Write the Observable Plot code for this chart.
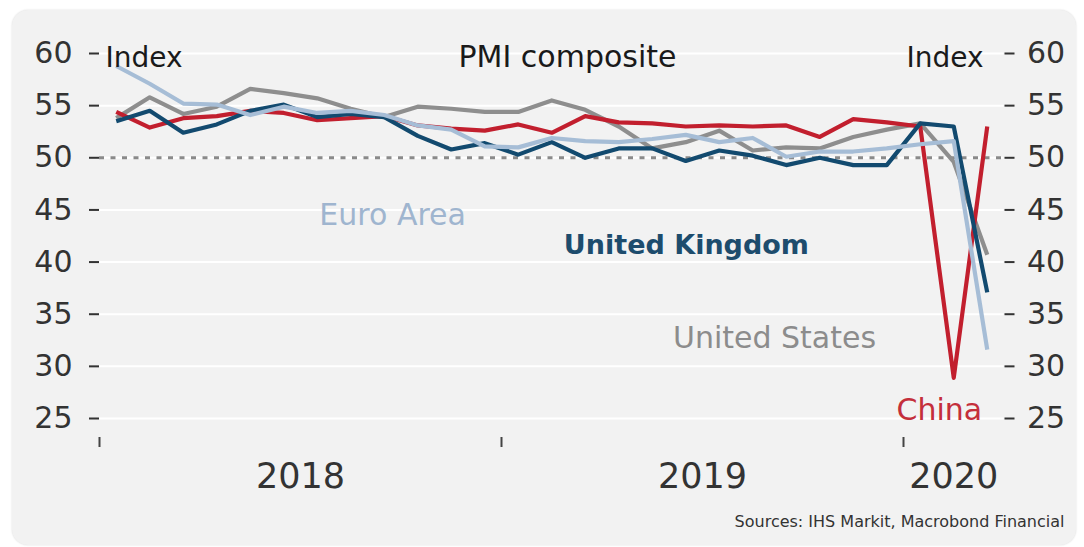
<!DOCTYPE html>
<html>
<head>
<meta charset="utf-8">
<script src="https://cdn.jsdelivr.net/npm/d3@7"></script>
<script src="https://cdn.jsdelivr.net/npm/@observablehq/plot@0.6"></script>
<style>
  html, body { margin: 0; padding: 0; background: #ffffff; }
  #wrap { position: relative; width: 1084px; height: 547px; overflow: hidden; }
  #card { position: absolute; left: 12px; top: 10px; width: 1064px; height: 535px;
          background: #f2f2f2; border-radius: 16px; box-shadow: 0 0 2px #d8d8d8; }
  #chart { position: absolute; left: 0; top: 0; }
</style>
</head>
<body>
<div id="wrap"><div id="card"></div><div id="chart"></div></div>
<script>
// ---- data ----
const months = ["2018-01","2018-02","2018-03","2018-04","2018-05","2018-06","2018-07","2018-08","2018-09","2018-10","2018-11","2018-12",
                "2019-01","2019-02","2019-03","2019-04","2019-05","2019-06","2019-07","2019-08","2019-09","2019-10","2019-11","2019-12",
                "2020-01","2020-02","2020-03"];
const china = [54.4, 52.9, 53.8, 54.0, 54.5, 54.3, 53.6, 53.8, 54.0, 53.1, 52.8, 52.6,
               53.2, 52.4, 54.0, 53.4, 53.3, 53.0, 53.1, 53.0, 53.1, 52.0, 53.7, 53.4,
               53.0, 28.9, 53.0];
const euroArea = [58.8, 57.1, 55.2, 55.1, 54.1, 54.9, 54.3, 54.5, 54.1, 53.1, 52.7, 51.1,
                  51.0, 51.9, 51.6, 51.5, 51.8, 52.2, 51.5, 51.9, 50.1, 50.6, 50.6, 50.9,
                  51.3, 51.6, 31.6];
const unitedKingdom = [53.5, 54.5, 52.4, 53.2, 54.5, 55.1, 53.9, 54.2, 53.9, 52.1, 50.8, 51.4,
                       50.3, 51.5, 50.0, 50.9, 50.9, 49.7, 50.7, 50.2, 49.3, 50.0, 49.3, 49.3,
                       53.3, 53.0, 37.1];
const unitedStates = [53.8, 55.8, 54.2, 54.9, 56.6, 56.2, 55.7, 54.7, 53.9, 54.9, 54.7, 54.4,
                      54.4, 55.5, 54.6, 53.0, 50.9, 51.5, 52.6, 50.7, 51.0, 50.9, 52.0, 52.7,
                      53.3, 49.6, 40.7];
const yTicks = [25, 30, 35, 40, 45, 50, 55, 60];
const yearLabels = ["2018", "2019", "2020"];
const seriesNames = ["United States", "China", "United Kingdom", "Euro Area"];
const seriesColors = ["#8e8e8e", "#c21f2e", "#124a6f", "#a6bdd6"];
const labelColors = ["#8c8c8c", "#c42f3b", "#1d4c6d", "#9fb5cf"];
const title = "PMI composite";
const unitLabel = "Index";
const source = "Sources: IHS Markit, Macrobond Financial";

// ---- derived ----
const seriesValues = [unitedStates, china, unitedKingdom, euroArea];
const monthIndex = m => { const [y, mo] = m.split("-").map(Number); return (y - 2018) * 12 + (mo - 1) + 0.5; };
const xMax = months.length;
const yearStarts = yearLabels.map(y => (Number(y) - 2018) * 12);
const yearMids = yearStarts.map(s => (s + Math.min(s + 12, xMax)) / 2);
const rows = seriesNames.map((name, k) =>
  months.map((m, i) => ({series: name, x: monthIndex(m), v: seriesValues[k][i]})));

const font = "DejaVu Sans";
const lineMarks = rows.map((r, k) => Plot.line(r, {x: "x", y: "v", stroke: seriesColors[k], strokeWidth: 4.2, strokeLinejoin: "round", strokeLinecap: "butt"}));

const chart = Plot.plot({
  width: 1084,
  height: 547,
  marginLeft: 99,
  marginRight: 80.5,
  marginTop: 53,
  marginBottom: 110,
  insetBottom: 19,
  style: {background: "transparent", fontFamily: font, color: "#333"},
  x: {domain: [0, xMax], axis: null},
  y: {domain: [25, 60], axis: null},
  marks: [
    Plot.ruleY(yTicks, {stroke: "#ffffff", strokeWidth: 2}),
    Plot.ruleY([50], {stroke: "#8a8a8a", strokeWidth: 3, strokeDasharray: "5,6.5"}),
    Plot.axisY(yTicks, {anchor: "left", label: null, tickSize: 10, tickPadding: 17, fontSize: 30, color: "#333", strokeWidth: 2, tickFormat: d => String(d)}),
    Plot.axisY(yTicks, {anchor: "right", label: null, tickSize: 10, tickPadding: 13, fontSize: 30, color: "#333", strokeWidth: 2, tickFormat: d => String(d)}),
    Plot.axisX(yearStarts, {anchor: "bottom", label: null, tickSize: 10, strokeWidth: 2, color: "#444", tickFormat: () => ""}),
    Plot.axisX(yearMids, {anchor: "bottom", label: null, tickSize: 0, tickPadding: 26, fontSize: 35, color: "#333", tickFormat: d => yearLabels[yearMids.indexOf(d)]}),
    ...lineMarks,
    Plot.text([title], {x: 13.97, y: 59.6, text: d => d, fontSize: 30, fill: "#1a1a1a", textAnchor: "middle", lineAnchor: "middle"}),
    Plot.text([unitLabel], {x: 0.18, y: 59.6, text: d => d, fontSize: 28, fill: "#1a1a1a", textAnchor: "start", lineAnchor: "middle"}),
    Plot.text([unitLabel], {x: 26.39, y: 59.6, text: d => d, fontSize: 28, fill: "#1a1a1a", textAnchor: "end", lineAnchor: "middle"}),
    Plot.text([seriesNames[3]], {x: 8.75, y: 44.45, text: d => d, fontSize: 30, fill: labelColors[3], textAnchor: "middle", lineAnchor: "middle"}),
    Plot.text([seriesNames[2]], {x: 17.52, y: 41.56, text: d => d, fontSize: 27, fontWeight: "bold", fill: labelColors[2], textAnchor: "middle", lineAnchor: "middle"}),
    Plot.text([seriesNames[0]], {x: 20.15, y: 32.65, text: d => d, fontSize: 30, fill: labelColors[0], textAnchor: "middle", lineAnchor: "middle"}),
    Plot.text([seriesNames[1]], {x: 25.07, y: 25.77, text: d => d, fontSize: 30, fill: labelColors[1], textAnchor: "middle", lineAnchor: "middle"}),
    Plot.text([source], {frameAnchor: "bottom-right", dx: 60.5, dy: 84, text: d => d, fontSize: 16, fill: "#333", textAnchor: "end", lineAnchor: "middle"})
  ]
});
document.getElementById("chart").appendChild(chart);
</script>
</body>
</html>
